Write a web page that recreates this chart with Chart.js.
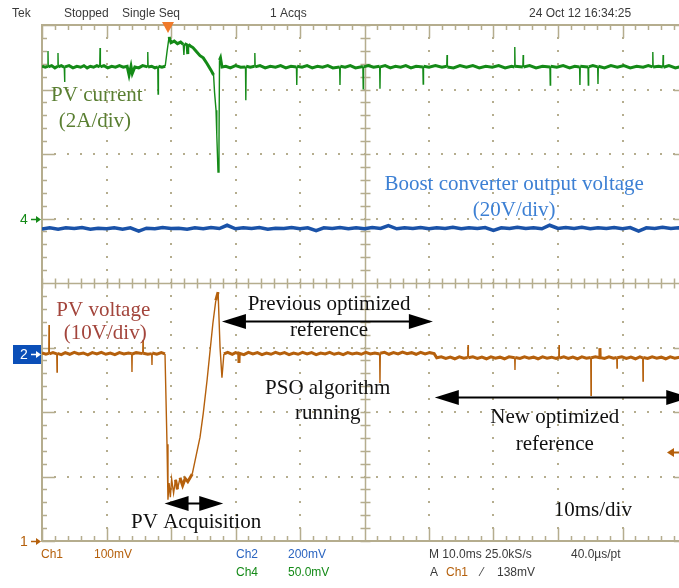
<!DOCTYPE html>
<html>
<head>
<meta charset="utf-8">
<script src="https://cdn.jsdelivr.net/npm/chart.js@4.4.1/dist/chart.umd.min.js"></script>
<style>
  html, body { margin: 0; padding: 0; background: #fff; overflow: hidden; }
  canvas { display: block; }
</style>
</head>
<body>
<canvas id="scope" width="700" height="588"></canvas>
<script>
// time in ms (10 ms/div), values in channel units
// Ch4 - PV current [ms, A]  (2 A/div)
const pvCurrent = [
  [0, 4.72], [0.5, 4.69], [0.9, 4.72], [0.93, 5.19], [0.97, 4.70], [1.5, 4.74], [2.0, 4.67], [2.45, 4.72],
  [2.48, 5.13], [2.52, 4.70], [3.0, 4.74], [3.45, 4.69], [3.5, 4.23], [3.55, 4.70], [4.2, 4.74], [4.8, 4.67],
  [5.4, 4.72], [6.0, 4.69], [6.5, 4.74], [7.0, 4.67], [7.5, 4.72], [8.0, 4.69], [8.5, 4.74], [8.95, 4.70],
  [9.0, 5.29], [9.05, 4.70], [9.6, 4.74], [10.2, 4.67], [10.8, 4.72], [11.4, 4.69], [12.0, 4.74], [12.6, 4.69],
  [13.2, 4.72], [13.5, 4.45], [13.8, 4.72], [14.0, 4.50], [14.4, 4.70], [15.0, 4.67], [15.6, 4.74], [16.35, 4.70],
  [16.4, 5.16], [16.45, 4.70], [17.0, 4.72], [17.5, 4.67], [17.95, 4.70], [18.0, 3.86], [18.05, 4.72], [18.6, 4.69],
  [19.1, 4.72], [19.4, 5.20], [19.7, 5.63], [20.0, 5.45], [20.5, 5.50], [21.0, 5.42], [21.5, 5.47], [21.9, 5.40],
  [22.0, 5.07], [22.1, 5.42], [22.5, 5.38], [22.6, 5.10], [22.7, 5.40], [23.0, 5.35], [23.4, 5.30], [24.0, 5.16],
  [24.5, 5.05], [25.0, 4.98], [25.6, 4.80], [26.2, 4.60], [26.6, 4.45], [26.75, 3.92], [26.98, 3.36], [27.1, 2.59],
  [27.29, 1.44], [27.44, 2.28], [27.52, 4.91], [27.67, 4.98], [27.9, 4.70], [28.5, 4.72], [29.2, 4.67], [30.0, 4.74],
  [30.8, 4.69], [31.55, 4.70], [31.6, 3.67], [31.65, 4.72], [32.3, 4.69], [32.95, 4.72], [33.0, 5.13], [33.05, 4.70],
  [33.8, 4.74], [34.6, 4.67], [35.4, 4.72], [36.2, 4.69], [37.0, 4.74], [37.8, 4.67], [38.6, 4.72], [39.45, 4.70],
  [39.5, 4.14], [39.55, 4.72], [40.3, 4.69], [41.1, 4.74], [41.9, 4.67], [42.7, 4.72], [43.5, 4.69], [44.3, 4.74],
  [45.1, 4.67], [46.15, 4.70], [46.2, 4.14], [46.25, 4.72], [47.0, 4.69], [47.8, 4.74], [48.6, 4.67], [49.75, 4.71],
  [49.8, 4.02], [49.85, 4.70], [50.6, 4.74], [51.4, 4.69], [52.35, 4.72], [52.4, 4.02], [52.45, 4.70], [53.2, 4.74],
  [54.0, 4.67], [54.8, 4.72], [55.6, 4.69], [56.4, 4.74], [57.2, 4.67], [58.0, 4.72], [59.05, 4.70], [59.1, 4.17],
  [59.15, 4.72], [60.0, 4.69], [61.0, 4.74], [62.0, 4.69], [62.75, 4.72], [62.8, 5.07], [62.85, 4.70], [63.8, 4.67],
  [64.8, 4.74], [65.8, 4.69], [66.8, 4.74], [67.8, 4.67], [68.8, 4.72], [69.8, 4.69], [70.8, 4.74], [71.8, 4.67],
  [72.8, 4.72], [73.25, 4.70], [73.3, 5.32], [73.35, 4.72], [74.55, 4.70], [74.6, 5.07], [74.65, 4.70], [75.6, 4.74],
  [76.6, 4.67], [77.6, 4.72], [78.75, 4.70], [78.8, 4.14], [78.85, 4.72], [79.8, 4.69], [80.8, 4.74], [81.8, 4.67],
  [82.6, 4.72], [83.35, 4.70], [83.4, 4.14], [83.45, 4.72], [84.65, 4.70], [84.7, 4.14], [84.75, 4.70], [85.4, 4.74],
  [86.15, 4.70], [86.2, 4.17], [86.25, 4.72], [87.2, 4.67], [88.2, 4.74], [89.2, 4.69], [90.2, 4.74], [91.2, 4.67],
  [92.2, 4.72], [93.2, 4.69], [94.0, 4.74], [94.65, 4.70], [94.7, 5.16], [94.75, 4.70], [95.6, 4.72], [96.25, 4.70],
  [96.3, 5.07], [96.35, 4.69], [97.2, 4.74], [98.2, 4.67], [99.2, 4.72], [100, 4.70]
];

// Ch2 - boost converter output voltage [ms, V]  (20 V/div)
const boostTime = [
  0, 1.2, 2.5, 3.7, 5, 6.2, 7.5, 8.7, 10, 11.2,
  12.5, 13.7, 15, 16.2, 17.5, 18.7, 20, 21.2, 22.5, 23.7,
  25, 26.2, 27.5, 28.7, 30, 31.2, 32.5, 33.7, 35, 36.2,
  37.5, 38.7, 40, 41.2, 42.5, 43.7, 45, 46.2, 47.5, 48.7,
  50, 51.2, 52.5, 53.7, 55, 56.2, 57.5, 58.7, 60, 61.2,
  62.5, 63.7, 65, 66.2, 67.5, 68.7, 70, 71.2, 72.5, 73.7,
  75, 76.2, 77.5, 78.7, 80, 81.2, 82.5, 83.7, 85, 86.2,
  87.5, 88.7, 90, 91.2, 92.5, 93.7, 95, 96.2, 97.5, 98.7,
  100
];
const boostVolts = [
  38.7, 39.1, 38.7, 39.1, 38.9, 39.2, 38.7, 39.0, 38.8, 39.1,
  38.7, 39.1, 38.1, 39.0, 38.8, 39.2, 38.9, 39.0, 38.7, 39.1,
  38.8, 39.2, 38.9, 39.9, 38.8, 39.1, 38.9, 39.2, 38.7, 39.0,
  38.9, 39.2, 38.8, 39.1, 38.2, 39.1, 38.9, 39.2, 38.8, 39.1,
  38.8, 39.2, 38.9, 39.8, 38.8, 39.1, 38.9, 39.2, 38.8, 39.1,
  38.9, 39.3, 38.8, 39.1, 38.9, 39.2, 38.3, 39.1, 38.9, 39.3,
  38.9, 39.1, 38.8, 39.9, 38.9, 39.2, 38.9, 39.3, 38.8, 39.1,
  38.9, 39.2, 38.8, 39.2, 38.1, 39.1, 38.9, 39.3, 38.9, 39.1,
  38.9
];

// Ch1 - PV voltage [ms, V]  (10 V/div)
const pvVoltage = [
  [0, 29.15], [0.6, 28.95], [1.05, 29.1], [1.09, 33.5], [1.13, 29.0], [1.7, 29.2], [2.29, 29.0], [2.33, 26.2],
  [2.37, 29.1], [3.0, 28.9], [3.6, 29.2], [4.3, 28.95], [5.0, 29.25], [5.7, 29.0], [6.4, 29.15], [7.1, 28.85],
  [7.8, 29.2], [8.5, 29.0], [9.2, 29.25], [9.9, 28.95], [10.6, 29.15], [11.3, 28.9], [12.0, 29.2], [12.7, 29.0],
  [13.4, 29.15], [13.91, 29.05], [13.95, 26.2], [13.99, 29.0], [14.6, 29.2], [15.62, 29.05], [15.66, 31.2], [15.7, 29.1],
  [16.4, 28.95], [17.01, 29.05], [17.05, 27.3], [17.09, 29.15], [17.8, 28.95], [18.5, 29.2], [19.07, 29.0], [19.38, 15.0],
  [19.53, 6.4], [19.7, 9.0], [19.9, 6.8], [20.1, 9.6], [20.4, 7.4], [20.7, 9.5], [21.0, 8.0], [21.4, 9.8],
  [21.8, 8.6], [22.2, 9.7], [22.6, 9.2], [23.0, 9.9], [23.3, 10.4], [24.5, 16.1], [25.0, 19.8], [25.6, 25.0],
  [26.1, 29.9], [26.5, 33.8], [26.95, 37.3], [27.3, 38.6], [27.6, 30.1], [27.9, 25.3], [28.2, 29.0], [28.8, 29.25],
  [29.5, 28.95], [30.0, 29.2], [30.5, 29.05], [30.54, 27.6], [30.58, 29.1], [31.3, 28.9], [32.0, 29.25], [32.7, 29.0],
  [33.4, 29.2], [34.1, 28.9], [34.8, 29.15], [35.5, 28.95], [36.2, 29.25], [36.9, 29.0], [37.6, 29.2], [38.3, 28.9],
  [39.0, 29.15], [39.7, 28.95], [40.4, 29.25], [41.1, 29.0], [41.8, 29.2], [42.5, 28.9], [43.2, 29.15], [43.9, 29.0],
  [44.6, 29.25], [45.3, 28.95], [46.0, 29.15], [46.7, 28.9], [47.4, 29.2], [48.1, 29.0], [48.8, 29.15], [49.5, 28.95],
  [50.2, 29.25], [50.9, 29.0], [51.6, 29.15], [52.35, 29.0], [52.4, 24.5], [52.45, 29.1], [53.1, 29.25], [53.8, 28.95],
  [54.5, 29.2], [55.2, 29.0], [55.9, 29.3], [56.6, 29.05], [57.3, 29.2], [58.0, 28.95], [58.7, 29.25], [59.4, 29.0],
  [60.1, 29.2], [60.8, 29.05], [61.2, 28.4], [61.9, 28.55], [62.6, 28.3], [63.3, 28.5], [64.0, 28.25], [64.7, 28.55],
  [65.4, 28.35], [66.0, 28.45], [66.05, 30.4], [66.1, 28.4], [66.8, 28.55], [67.5, 28.3], [68.2, 28.5], [68.9, 28.25],
  [69.6, 28.55], [70.3, 28.35], [71.0, 28.5], [71.7, 28.25], [72.4, 28.55], [73.29, 28.4], [73.33, 26.5], [73.37, 28.45],
  [74.1, 28.3], [74.8, 28.55], [75.5, 28.35], [76.2, 28.5], [76.9, 28.25], [77.6, 28.55], [78.3, 28.35], [79.0, 28.5],
  [79.7, 28.3], [80.12, 28.45], [80.16, 30.4], [80.2, 28.35], [80.9, 28.55], [81.6, 28.3], [82.3, 28.5], [83.0, 28.25],
  [83.7, 28.55], [84.4, 28.35], [85.08, 28.45], [85.12, 22.6], [85.16, 28.4], [85.8, 28.55], [86.46, 28.4], [86.5, 29.9],
  [86.54, 28.45], [87.2, 28.3], [87.9, 28.55], [88.6, 28.35], [89.11, 28.45], [89.15, 26.8], [89.19, 28.4], [89.9, 28.55],
  [90.6, 28.3], [91.3, 28.5], [92.0, 28.25], [92.7, 28.55], [93.14, 28.4], [93.18, 24.8], [93.22, 28.45], [93.9, 28.3],
  [94.6, 28.55], [95.3, 28.35], [96.0, 28.5], [96.7, 28.25], [97.4, 28.55], [98.1, 28.35], [98.8, 28.5], [99.5, 28.3],
  [100, 28.45]
];

const triggerTime = 19.5;   // ms
const triggerLevel = 13.8;  // V on Ch1

const GRID = '#b5ad8e';
const ORANGE = '#b5600c';
const BLUE = '#1a52a8';
const GREEN = '#148a17';

// annotations: t in ms, d in divisions from screen centre
const notes = [
  { text: 'PV current', t: 8.5, d: 2.9, color: '#5a7f32' },
  { text: '(2A/div)', t: 8.2, d: 2.51, color: '#5a7f32' },
  { text: 'Boost converter output voltage', t: 73.2, d: 1.52, color: '#3d80d4' },
  { text: '(20V/div)', t: 73.2, d: 1.13, color: '#3d80d4' },
  { text: 'PV voltage', t: 9.5, d: -0.42, color: '#a3453c' },
  { text: '(10V/div)', t: 9.8, d: -0.79, color: '#a3453c' },
  { text: 'Previous optimized', t: 44.5, d: -0.34, color: '#111' },
  { text: 'reference', t: 44.5, d: -0.74, color: '#111' },
  { text: 'PSO algorithm', t: 44.3, d: -1.63, color: '#111' },
  { text: 'running', t: 44.3, d: -2.02, color: '#111' },
  { text: 'New optimized', t: 79.5, d: -2.09, color: '#111' },
  { text: 'reference', t: 79.5, d: -2.5, color: '#111' },
  { text: 'PV Acquisition', t: 23.9, d: -3.72, color: '#111' },
  { text: '10ms/div', t: 85.4, d: -3.52, color: '#111' }
];
const arrows = [
  { from: 19.0, to: 28.1, d: -3.41 },
  { from: 27.9, to: 60.6, d: -0.59 },
  { from: 60.9, to: 100.5, d: -1.77 }
];

function toPoints(pairs) {
  return pairs.map(p => ({ x: p[0], y: p[1] }));
}

// spikes and fast edges are drawn as thin hairs, the noisy baseline as a thick band
function hairWidth(limit, thin, thick) {
  return c => Math.abs(c.p1.parsed.y - c.p0.parsed.y) > limit ? thin : thick;
}

function sansText(ctx, text, x, y, color, size) {
  ctx.save();
  ctx.font = (size || 12) + 'px "Liberation Sans", Arial, sans-serif';
  ctx.fillStyle = color;
  ctx.textAlign = 'left';
  ctx.textBaseline = 'middle';
  ctx.fillText(text, x, y);
  ctx.restore();
}

const graticule = {
  id: 'graticule',
  beforeDatasetsDraw(chart) {
    const { ctx, chartArea: a, scales } = chart;
    const x = scales.x, g = scales.g;
    ctx.save();
    ctx.fillStyle = GRID;
    ctx.strokeStyle = GRID;

    // dotted major lines
    for (let i = 1; i < 10; i++) {
      if (i === 5) continue;
      const px = Math.round(x.getPixelForValue(i * 10));
      for (let k = 0; k <= 40; k++) {
        const py = Math.round(g.getPixelForValue(-4 + k * 0.2));
        ctx.fillRect(px - 1, py - 1, 2, 2);
      }
    }
    for (let j = -3; j <= 3; j++) {
      if (j === 0) continue;
      const py = Math.round(g.getPixelForValue(j));
      for (let k = 0; k <= 50; k++) {
        const px = Math.round(x.getPixelForValue(k * 2));
        ctx.fillRect(px - 1, py - 1, 2, 2);
      }
    }

    // centre cross + border ticks
    const cx = Math.round(x.getPixelForValue(50)) + 0.5;
    const cy = Math.round(g.getPixelForValue(0)) + 0.5;
    ctx.lineWidth = 1.5;
    ctx.beginPath();
    ctx.moveTo(cx, a.top); ctx.lineTo(cx, a.bottom);
    ctx.moveTo(a.left, cy); ctx.lineTo(a.right, cy);
    for (let k = 0; k <= 40; k++) {
      const py = Math.round(g.getPixelForValue(-4 + k * 0.2)) + 0.5;
      ctx.moveTo(cx - 5, py); ctx.lineTo(cx + 5, py);
      const len = k % 5 === 0 ? 13 : 5;
      ctx.moveTo(a.left, py); ctx.lineTo(a.left + len, py);
      ctx.moveTo(a.right, py); ctx.lineTo(a.right - len, py);
    }
    for (let k = 0; k <= 50; k++) {
      const px = Math.round(x.getPixelForValue(k * 2)) + 0.5;
      ctx.moveTo(px, cy - 5); ctx.lineTo(px, cy + 5);
      const len = k % 5 === 0 ? 13 : 5;
      ctx.moveTo(px, a.top); ctx.lineTo(px, a.top + len);
      ctx.moveTo(px, a.bottom); ctx.lineTo(px, a.bottom - len);
    }
    ctx.stroke();

    ctx.lineWidth = 2;
    ctx.strokeRect(a.left, a.top, a.right - a.left, a.bottom - a.top);
    ctx.restore();
  }
};

function head(ctx, tipX, y, dir, len, hw) {
  ctx.beginPath();
  ctx.moveTo(tipX, y);
  ctx.lineTo(tipX + dir * len, y - hw);
  ctx.lineTo(tipX + dir * len, y + hw);
  ctx.closePath();
  ctx.fill();
}

const overlay = {
  id: 'overlay',
  afterDatasetsDraw(chart) {
    const { ctx, chartArea: a, scales } = chart;
    const x = scales.x, g = scales.g;

    // annotation text
    ctx.save();
    ctx.font = '21px "Liberation Serif", "Times New Roman", serif';
    ctx.textAlign = 'center';
    ctx.textBaseline = 'middle';
    notes.forEach(n => {
      ctx.fillStyle = n.color;
      ctx.fillText(n.text, x.getPixelForValue(n.t), g.getPixelForValue(n.d));
    });

    // double arrows
    ctx.fillStyle = '#000';
    ctx.strokeStyle = '#000';
    ctx.lineWidth = 2;
    arrows.forEach(ar => {
      const x1 = x.getPixelForValue(ar.from);
      const x2 = x.getPixelForValue(ar.to);
      const y = Math.round(g.getPixelForValue(ar.d)) + 0.5;
      ctx.beginPath();
      ctx.moveTo(x1 + 10, y); ctx.lineTo(x2 - 10, y);
      ctx.stroke();
      head(ctx, x1, y, 1, 24, 7.5);
      head(ctx, x2, y, -1, 24, 7.5);
    });
    ctx.restore();

    // trigger position marker
    const tx = Math.round(x.getPixelForValue(triggerTime));
    ctx.save();
    ctx.fillStyle = '#f07a2a';
    ctx.beginPath();
    ctx.moveTo(tx - 6, a.top - 3);
    ctx.lineTo(tx + 6, a.top - 3);
    ctx.lineTo(tx, a.top + 8);
    ctx.closePath();
    ctx.fill();

    // trigger level marker (right)
    const ty = Math.round(scales.yV.getPixelForValue(triggerLevel)) + 0.5;
    ctx.fillStyle = ORANGE;
    ctx.strokeStyle = ORANGE;
    ctx.lineWidth = 2;
    head(ctx, 667, ty, 1, 7, 4.5);
    ctx.beginPath(); ctx.moveTo(672, ty); ctx.lineTo(684, ty); ctx.stroke();
    ctx.restore();

    // channel ground markers
    const g4 = Math.round(scales.yI.getPixelForValue(0)) + 0.5;
    const g2 = Math.round(scales.yB.getPixelForValue(0)) + 0.5;
    const g1 = Math.round(scales.yV.getPixelForValue(0)) + 0.5;
    ctx.save();
    ctx.fillStyle = '#0b4fb8';
    ctx.fillRect(13, g2 - 9.5, 28, 19);
    const marker = (y, label, color) => {
      sansText(ctx, label, 20, y + 1, color, 14);
      ctx.strokeStyle = color; ctx.fillStyle = color; ctx.lineWidth = 1.5;
      ctx.beginPath(); ctx.moveTo(31, y); ctx.lineTo(37, y); ctx.stroke();
      head(ctx, 41, y, -1, 5, 3.5);
    };
    marker(g4, '4', GREEN);
    marker(g2, '2', '#ffffff');
    marker(g1, '1', ORANGE);
    ctx.restore();
  },
  afterDraw(chart) {
    const ctx = chart.ctx;
    const dark = '#3a3a3a';
    sansText(ctx, 'Tek', 12, 14, dark);
    sansText(ctx, 'Stopped', 64, 14, dark);
    sansText(ctx, 'Single Seq', 122, 14, dark);
    sansText(ctx, '1 Acqs', 270, 14, dark);
    sansText(ctx, '24 Oct 12 16:34:25', 529, 14, dark);

    sansText(ctx, 'Ch1', 41, 555, ORANGE);
    sansText(ctx, '100mV', 94, 555, ORANGE);
    sansText(ctx, 'Ch2', 236, 555, '#2a64c0');
    sansText(ctx, '200mV', 288, 555, '#2a64c0');
    sansText(ctx, 'Ch4', 236, 573, GREEN);
    sansText(ctx, '50.0mV', 288, 573, GREEN);
    sansText(ctx, 'M 10.0ms 25.0kS/s', 429, 555, dark);
    sansText(ctx, '40.0\u00b5s/pt', 571, 555, dark);
    sansText(ctx, 'A', 430, 573, dark);
    sansText(ctx, 'Ch1', 446, 573, ORANGE);
    sansText(ctx, '\u2044', 481, 573, dark);
    sansText(ctx, '138mV', 497, 573, dark);
  }
};

new Chart(document.getElementById('scope'), {
  type: 'line',
  data: {
    datasets: [
      {
        label: 'Ch4 PV current',
        data: toPoints(pvCurrent),
        yAxisID: 'yI',
        borderColor: GREEN,
        borderWidth: 3,
        segment: { borderWidth: hairWidth(0.3, 1.4, 3) }
      },
      {
        label: 'Ch2 Boost output',
        data: boostTime.map((t, i) => ({ x: t, y: boostVolts[i] })),
        yAxisID: 'yB',
        borderColor: BLUE,
        borderWidth: 3.5
      },
      {
        label: 'Ch1 PV voltage',
        data: toPoints(pvVoltage),
        yAxisID: 'yV',
        borderColor: ORANGE,
        borderWidth: 3,
        segment: { borderWidth: hairWidth(1.5, 1.4, 3) }
      }
    ]
  },
  options: {
    responsive: false,
    animation: false,
    layout: { padding: { left: 42, top: 25, right: 13, bottom: 47 } },
    elements: { point: { radius: 0 }, line: { tension: 0 } },
    plugins: { legend: { display: false }, tooltip: { enabled: false } },
    scales: {
      x: { type: 'linear', min: 0, max: 100, display: false },
      g: { type: 'linear', axis: 'y', min: -4, max: 4, display: false },
      yI: { type: 'linear', min: -10, max: 6, display: false },
      yB: { type: 'linear', min: -58, max: 102, display: false },
      yV: { type: 'linear', min: 0, max: 80, display: false }
    }
  },
  plugins: [graticule, overlay]
});
</script>
</body>
</html>
